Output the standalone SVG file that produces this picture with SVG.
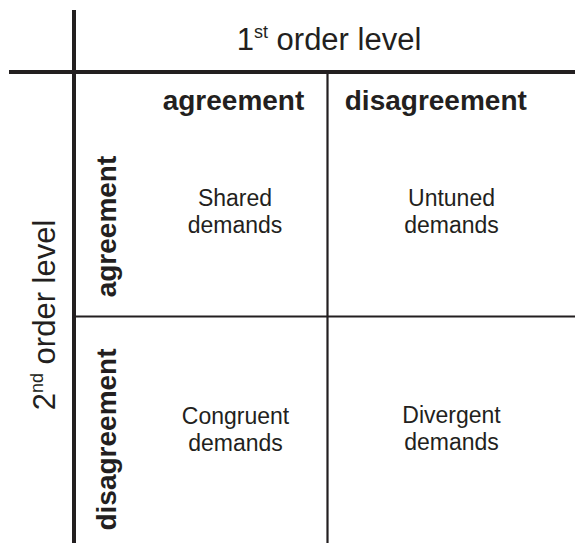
<svg xmlns="http://www.w3.org/2000/svg" width="575" height="544" viewBox="0 0 575 544">
<style>
.t{font-family:"Liberation Sans",Arial,sans-serif;fill:#231f20}
.big{font-size:31px}
.hd{font-size:28px;font-weight:bold}
.cell{font-size:23px;text-anchor:middle}
.thick{stroke:#231f20;stroke-width:4;fill:none}
.thin{stroke:#231f20;stroke-width:2.2;fill:none}
</style>
<rect width="575" height="544" fill="#ffffff"/>
<g id="connectors">
<line class="thick" x1="74" y1="10" x2="74" y2="543"/>
<line class="thick" x1="9" y1="72" x2="575" y2="72"/>
<line class="thin" x1="327.5" y1="72" x2="327.5" y2="543"/>
<line class="thin" x1="72" y1="316.5" x2="575" y2="316.5"/>
</g>
<g id="first-order-level">
<text class="t big" x="329" y="50" text-anchor="middle">1<tspan font-size="18" dy="-12">st</tspan><tspan dy="12"> order level</tspan></text>
</g>
<g id="second-order-level">
<text class="t big" transform="translate(55,315) rotate(-90)" x="0" y="0" text-anchor="middle">2<tspan font-size="18" dy="-12">nd</tspan><tspan dy="12"> order level</tspan></text>
</g>
<g id="col-agreement">
<text class="t hd" x="233.5" y="110" text-anchor="middle">agreement</text>
</g>
<g id="col-disagreement">
<text class="t hd" x="435.8" y="110" text-anchor="middle">disagreement</text>
</g>
<g id="row-agreement">
<text class="t hd" transform="translate(116,226.5) rotate(-90)" text-anchor="middle">agreement</text>
</g>
<g id="row-disagreement">
<text class="t hd" transform="translate(116,439.5) rotate(-90)" text-anchor="middle">disagreement</text>
</g>
<g id="shared">
<text class="t cell" x="235" y="205.5">Shared</text>
<text class="t cell" x="235" y="232.5">demands</text>
</g>
<g id="untuned">
<text class="t cell" x="451.5" y="205.5">Untuned</text>
<text class="t cell" x="451.5" y="232.5">demands</text>
</g>
<g id="congruent">
<text class="t cell" x="235.5" y="423.5">Congruent</text>
<text class="t cell" x="235.5" y="450.5">demands</text>
</g>
<g id="divergent">
<text class="t cell" x="451.5" y="423">Divergent</text>
<text class="t cell" x="451.5" y="450">demands</text>
</g>
</svg>
